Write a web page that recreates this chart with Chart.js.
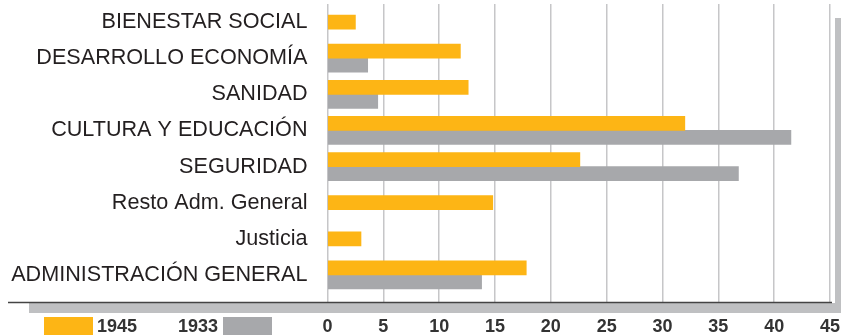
<!DOCTYPE html>
<html>
<head>
<meta charset="utf-8">
<script src="https://cdn.jsdelivr.net/npm/chart.js@4/dist/chart.umd.min.js"></script>
<style>
  html, body { margin: 0; padding: 0; background: #fff; }
  #wrap { position: relative; width: 841px; height: 335px; }
  .leg { position: absolute; top: 317px; height: 18px; }
  .legtxt { position: absolute; top: 316px; font: bold 18px 'Liberation Sans Narrow', 'Arial Narrow', sans-serif; color: #333; line-height: 21px; }
</style>
</head>
<body>
<div id="wrap">
  <canvas id="gastos" width="841" height="335"></canvas>
  <div class="leg" style="left:44px;width:49px;background:#fdb515"></div>
  <div class="legtxt" style="left:97px">1945</div>
  <div class="legtxt" style="left:178px">1933</div>
  <div class="leg" style="left:223px;width:49px;background:#a7a8ab"></div>
</div>
<script>
let categories = ['BIENESTAR SOCIAL', 'DESARROLLO ECONOMÍA', 'SANIDAD', 'CULTURA Y EDUCACIÓN', 'SEGURIDAD', 'Resto Adm. General', 'Justicia', 'ADMINISTRACIÓN GENERAL'];
let values1945 = [2.5, 11.9, 12.6, 32.0, 22.6, 14.8, 3.0, 17.8];
let values1933 = [null, 3.6, 4.5, 41.5, 36.8, null, null, 13.8];
let xTicks = [0, 5, 10, 15, 20, 25, 30, 35, 40, 45];

// base line, grey band and right border under/around the plot
let framePlugin = {
    id: 'frame',
    afterDraw(chart) {
        let ctx = chart.ctx;
        let area = chart.chartArea;
        let base = area.bottom + 9;
        ctx.save();
        ctx.fillStyle = '#bfc0c2';
        ctx.fillRect(29, base + 1, 841 - 29, 10);
        ctx.fillRect(835, 18, 6, base + 11 - 18);
        ctx.strokeStyle = '#444';
        ctx.lineWidth = 1.5;
        ctx.beginPath();
        ctx.moveTo(8, base + 0.5);
        ctx.lineTo(832, base + 0.5);
        ctx.stroke();
        ctx.restore();
    }
};

function renderChart() {
    let ctx = document.getElementById('gastos');
    new Chart(ctx, {
        type: 'bar',
        data: {
            labels: categories,
            datasets: [{
                label: '1945',
                data: values1945,
                backgroundColor: '#fdb515',
                barThickness: 14
            }, {
                label: '1933',
                data: values1933,
                backgroundColor: '#a7a8ab',
                barThickness: 14
            }]
        },
        options: {
            indexAxis: 'y',
            responsive: false,
            devicePixelRatio: 1,
            animation: false,
            skipNull: true,
            layout: { padding: { top: 4, right: 11, left: 0, bottom: 0 } },
            plugins: {
                legend: { display: false },
                tooltip: { enabled: false }
            },
            scales: {
                x: {
                    min: 0,
                    max: 45,
                    afterBuildTicks(scale) {
                        scale.ticks = xTicks.map(v => ({ value: v }));
                    },
                    afterFit(scale) {
                        scale.height = 42;
                        scale.paddingLeft = 0;
                        scale.paddingRight = 0;
                    },
                    grid: { color: '#c6c6c8', lineWidth: 1.5, tickLength: 9 },
                    border: { display: false },
                    ticks: {
                        padding: 14,
                        color: '#333',
                        maxRotation: 0,
                        font: { family: "'Liberation Sans Narrow', 'Arial Narrow', sans-serif", size: 18, weight: 'bold' }
                    }
                },
                y: {
                    afterFit(scale) {
                        scale.width = 327.5;
                        scale.paddingTop = 0;
                        scale.paddingBottom = 0;
                    },
                    grid: { display: false },
                    border: { display: false },
                    ticks: {
                        padding: 12,
                        color: '#231f20',
                        font: { family: "'Liberation Sans', Arial, sans-serif", size: 21.6 }
                    }
                }
            }
        },
        plugins: [framePlugin]
    });
}

renderChart();
</script>
</body>
</html>
